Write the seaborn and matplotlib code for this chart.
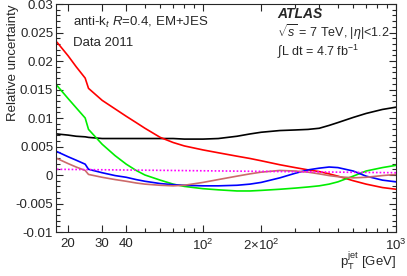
import numpy as np
import pandas as pd
import matplotlib
matplotlib.use('Agg')
import matplotlib.pyplot as plt
import matplotlib.ticker as mticker
import seaborn as sns

# jet pT grid [GeV]
pt = [17.5, 20, 22, 24.5, 25.5, 30, 35, 40, 45, 50, 60, 70, 80, 100, 120, 150, 175,
      200, 250, 300, 350, 400, 450, 500, 600, 700, 850, 1000]

total = [0.0072, 0.0070, 0.0068, 0.0067, 0.0066, 0.0064, 0.0064, 0.0064, 0.0064, 0.0064,
         0.0064, 0.0064, 0.0063, 0.0063, 0.0064, 0.0068, 0.0072, 0.0075, 0.0078, 0.0079,
         0.0080, 0.0082, 0.0087, 0.0092, 0.0101, 0.0108, 0.0115, 0.0119]
red = [0.0233, 0.0209, 0.0190, 0.0170, 0.0152, 0.0131, 0.0116, 0.0103, 0.0092, 0.0082,
       0.0066, 0.0057, 0.0051, 0.0044, 0.0039, 0.0033, 0.0029, 0.0025, 0.0018, 0.0013,
       0.0009, 0.0006, 0.0002, -0.0002, -0.0010, -0.0016, -0.0022, -0.0025]
green = [0.0157, 0.0134, 0.0118, 0.0100, 0.0080, 0.0054, 0.0034, 0.0019, 0.0008, 0.0000,
         -0.0009, -0.0016, -0.0020, -0.0024, -0.0026, -0.0028, -0.0028, -0.0027, -0.0025, -0.0023,
         -0.0021, -0.0019, -0.0016, -0.0012, -0.0002, 0.0007, 0.0013, 0.0017]
blue = [0.0041, 0.0032, 0.0026, 0.0019, 0.0010, 0.0004, -0.0001, -0.0004, -0.0008, -0.0011,
        -0.0015, -0.0017, -0.0018, -0.0019, -0.0019, -0.0018, -0.0016, -0.0013, -0.0005, 0.0003,
        0.0009, 0.0012, 0.0014, 0.0013, 0.0007, -0.0002, -0.0009, -0.0012]
pink = [0.0029, 0.0020, 0.0014, 0.0008, 0.0001, -0.0004, -0.0008, -0.0011, -0.0014, -0.0016,
        -0.0018, -0.0019, -0.0018, -0.0013, -0.0008, -0.0002, 0.0002, 0.0005, 0.0008, 0.0007,
        0.0005, 0.0002, -0.0001, -0.0003, -0.0005, -0.0004, -0.0001, 0.0001]

# dotted magenta term
pt_flat = [17.5, 1000]
flat = [0.0010, 0.0004]

xticks = [20, 30, 40, 100, 200, 1000]
xticklabels = ['20', '30', '40', r'$10^{2}$', r'$2{\times}10^{2}$', r'$10^{3}$']
xminor = [50, 60, 70, 80, 90, 300, 400, 500, 600, 700, 800, 900]

sns.set_style('ticks')
plt.rcParams['font.family'] = ['Liberation Sans', 'DejaVu Sans']
plt.rcParams['mathtext.fontset'] = 'custom'
plt.rcParams['mathtext.rm'] = 'Liberation Sans'
plt.rcParams['mathtext.it'] = 'Liberation Sans:italic'
plt.rcParams['mathtext.bf'] = 'Liberation Sans:bold'

fig = plt.figure(figsize=(4.07, 2.76), dpi=100)
ax = fig.add_axes([0.1376, 0.1594, 0.8354, 0.8261])

curves = [
    (total, 'black'),
    (red, '#ff0000'),
    (green, '#00ee00'),
    (blue, '#0000ff'),
    (pink, '#cc6a6a'),
]
for vals, col in curves:
    df = pd.DataFrame({'pt': pt, 'unc': vals})
    sns.lineplot(data=df, x='pt', y='unc', color=col, lw=1.2, ax=ax, sort=False, estimator=None)

df_flat = pd.DataFrame({'pt': pt_flat, 'unc': flat})
sns.lineplot(data=df_flat, x='pt', y='unc', color='#ff00ff', lw=1.2, ls=(0, (1, 1.2)),
             ax=ax, sort=False, estimator=None)

ax.set_xscale('log')
ax.set_xlim(17.3, 1000)
ax.set_ylim(-0.01, 0.03)

ax.xaxis.set_major_locator(mticker.FixedLocator(xticks))
ax.xaxis.set_major_formatter(mticker.FixedFormatter(xticklabels))
ax.xaxis.set_minor_locator(mticker.FixedLocator(xminor))
ax.xaxis.set_minor_formatter(mticker.NullFormatter())
ax.yaxis.set_major_locator(mticker.MultipleLocator(0.005))
ax.yaxis.set_minor_locator(mticker.MultipleLocator(0.001))
ax.yaxis.set_major_formatter(mticker.FuncFormatter(lambda v, p: '%g' % round(v, 4)))

ax.tick_params(which='both', direction='in', top=True, right=True, labelsize=9.5, width=0.8)
ax.tick_params(which='major', length=5)
ax.tick_params(which='minor', length=2.8)
ax.tick_params(axis='x', pad=4)
ax.tick_params(axis='y', pad=2)
for s in ax.spines.values():
    s.set_linewidth(0.8)

ax.set_xlabel(r'p$_{\mathrm{T}}^{\mathrm{jet}}$ [GeV]', fontsize=9.5, loc='right')
ax.xaxis.set_label_coords(1.0, -0.08)
ax.set_ylabel('Relative uncertainty', fontsize=9.5, loc='top')
ax.yaxis.set_label_coords(-0.11, 1.0)

ax.text(0.05, 0.917, r'anti-k$_{t}$ $R$=0.4, EM+JES', transform=ax.transAxes, fontsize=9.5, va='center')
ax.text(0.05, 0.829, 'Data 2011', transform=ax.transAxes, fontsize=9.5, va='center')
ax.text(0.65, 0.958, 'ATLAS', transform=ax.transAxes, fontsize=10, va='center',
        fontweight='bold', fontstyle='italic')
ax.text(0.65, 0.878, r'$\sqrt{s}$ = 7 TeV, |$\eta$|<1.2', transform=ax.transAxes, fontsize=9, va='center')
ax.text(0.65, 0.795, '\u222bL dt = 4.7 fb$^{-1}$', transform=ax.transAxes, fontsize=9, va='center')

fig.savefig('out.png', dpi=100)
